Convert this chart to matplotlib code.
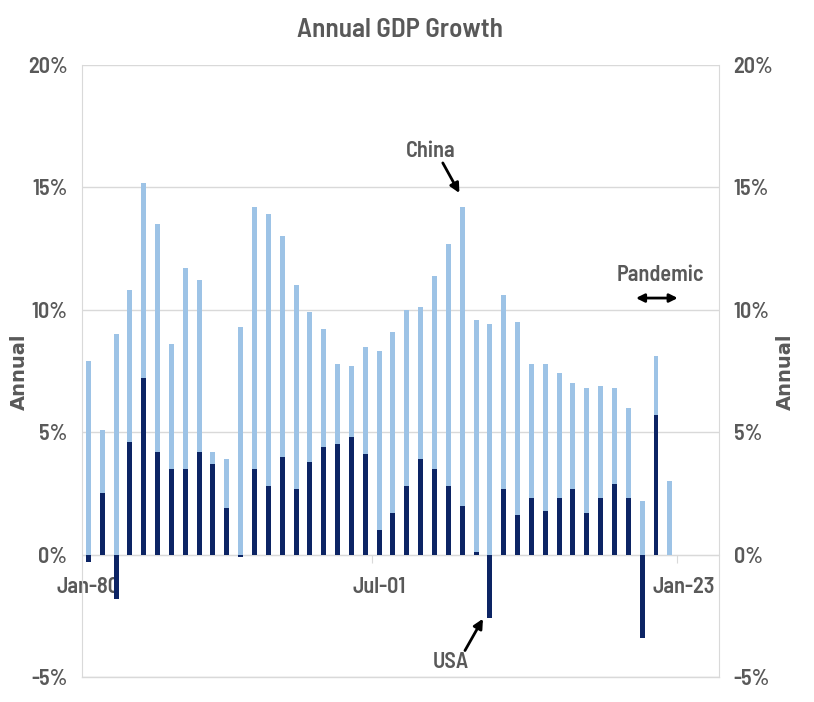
import numpy as np
import matplotlib
matplotlib.use("Agg")
import matplotlib.pyplot as plt

years = list(range(1980, 2023))
china = [7.9, 5.1, 9.0, 10.8, 15.2, 13.5, 8.6, 11.7, 11.2, 4.2,
         3.9, 9.3, 14.2, 13.9, 13.0, 11.0, 9.9, 9.2, 7.8, 7.7,
         8.5, 8.3, 9.1, 10.0, 10.1, 11.4, 12.7, 14.2, 9.6, 9.4,
         10.6, 9.5, 7.8, 7.8, 7.4, 7.0, 6.8, 6.9, 6.8, 6.0,
         2.2, 8.1, 3.0]
usa = [-0.3, 2.5, -1.8, 4.6, 7.2, 4.2, 3.5, 3.5, 4.2, 3.7,
       1.9, -0.1, 3.5, 2.8, 4.0, 2.7, 3.8, 4.4, 4.5, 4.8,
       4.1, 1.0, 1.7, 2.8, 3.9, 3.5, 2.8, 2.0, 0.1, -2.6,
       2.7, 1.6, 2.3, 1.8, 2.3, 2.7, 1.7, 2.3, 2.9, 2.3,
       -3.4, 5.7, np.nan]
x_labels = ["Jan-80", "Jul-01", "Jan-23"]
x_label_pos = [0, 21, 43]
y_ticks = [-5, 0, 5, 10, 15, 20]

FONT = ['Barlow Semi Condensed', 'DejaVu Sans']
GRAY = '#595959'
LIGHT = '#9DC3E6'
DARK = '#0C2464'
GRID = '#D9D9D9'
W = 600

plt.rcParams['font.family'] = FONT

fig = plt.figure(figsize=(8.14, 7.02), dpi=100)
ax = fig.add_axes([82/814, 1-677/702, (719-82)/814, (677-65)/702])

idx = np.arange(len(years))
ax.bar(idx, china, width=0.36, color=LIGHT, zorder=2)
ax.bar(idx, usa, width=0.36, color=DARK, zorder=3)

ax.set_xlim(-0.46, 45.55)
ax.set_ylim(-5, 20)
ax.set_yticks(y_ticks)
ax.set_yticklabels([f"{v}%" for v in y_ticks])
ax.yaxis.grid(True, color=GRID, lw=1, zorder=0)
ax.axhline(-5, color=GRID, lw=1, clip_on=False, zorder=0)
ax.set_axisbelow(True)
ax.tick_params(axis='y', left=False, right=False, labelleft=True, labelright=True,
               labelsize=16, labelcolor=GRAY, pad=7)
for lab in ax.get_yticklabels():
    lab.set_fontweight(W)

ax.spines['top'].set_visible(False)
ax.spines['left'].set_color(GRID)
ax.spines['right'].set_color(GRID)
ax.spines['bottom'].set_position(('data', 0))
ax.spines['bottom'].set_color(GRID)
ax.spines['bottom'].set_zorder(1)

ax.set_xticks([20.5, 42.5])
ax.set_xticklabels(['', ''])
ax.tick_params(axis='x', which='major', length=6, color=GRID, direction='out')
ax.set_xticks(x_label_pos, minor=True)
ax.set_xticklabels(x_labels, minor=True)
ax.tick_params(axis='x', which='minor', length=0, pad=16, labelsize=16, labelcolor=GRAY)
for lab in ax.get_xticklabels(minor=True):
    lab.set_fontweight(W)
    lab.set_zorder(5)

fig.text(400/814, 1-30/702, "Annual GDP Growth", ha='center', va='center',
         fontsize=19.5, color=GRAY, fontweight=W)
fig.text(19/814, 1-372/702, "Annual", rotation=90, ha='center', va='center',
         fontsize=14, color=GRAY, fontweight='bold', family=['DejaVu Sans'])
fig.text(785/814, 1-372/702, "Annual", rotation=90, ha='center', va='center',
         fontsize=14, color=GRAY, fontweight='bold', family=['DejaVu Sans'])

arrow = dict(arrowstyle='-|>', color='black', lw=2, mutation_scale=14, shrinkA=0, shrinkB=0)
ax.text(24.7, 16.5, "China", ha='center', va='center', fontsize=16, color=GRAY, fontweight=W)
ax.annotate("", xy=(26.8, 14.77), xytext=(25.6, 16.0), arrowprops=arrow)
ax.text(26.2, -4.37, "USA", ha='center', va='center', fontsize=16, color=GRAY, fontweight=W)
ax.annotate("", xy=(28.5, -2.62), xytext=(27.2, -3.92), arrowprops=arrow)
ax.text(41.3, 11.43, "Pandemic", ha='center', va='center', fontsize=16, color=GRAY, fontweight=W)
ax.annotate("", xy=(42.57, 10.48), xytext=(39.55, 10.48),
            arrowprops=dict(arrowstyle='<|-|>', color='black', lw=2, mutation_scale=12,
                            shrinkA=0, shrinkB=0))

fig.savefig("out.png", dpi=100)
